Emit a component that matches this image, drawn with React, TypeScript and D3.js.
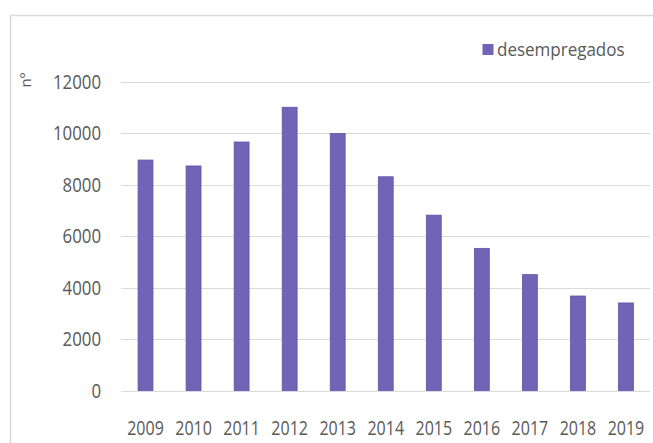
import React from "react";
import * as d3 from "d3";

const years = ["2009", "2010", "2011", "2012", "2013", "2014", "2015", "2016", "2017", "2018", "2019"];
const desempregados = [8950, 8720, 9650, 11000, 9980, 8300, 6810, 5520, 4500, 3670, 3400];
const yTicks = [0, 2000, 4000, 6000, 8000, 10000, 12000];
const seriesName = "desempregados";
const yAxisTitle = "nº";

const W = 653;
const H = 443;
const FONT = "'Open Sans', sans-serif";
const TXT = "#595959";

export default function App() {
  const x = d3.scaleBand<string>().domain(years).range([121.5, 650]).paddingInner(0.69).paddingOuter(0.345);
  const y = d3.scaleLinear().domain([0, 12000]).range([390.5, 81.5]);

  return (
    <svg width={W} height={H} style={{ position: "absolute", left: 0, top: 0, background: "#fff" }}>
      <rect x={0} y={0} width={W} height={H} fill="#fff" />
      <rect x={10.5} y={15.5} width={700} height={500} fill="none" stroke="#d9d9d9" strokeWidth={1.5} />
      {yTicks.map((t) => (
        <g key={t}>
          <line x1={121} x2={650} y1={Math.round(y(t)) + 0.5} y2={Math.round(y(t)) + 0.5} stroke="#d9d9d9" strokeWidth={1} />
          <text
            x={101}
            y={y(t)}
            textAnchor="end"
            fontFamily={FONT}
            fontSize={16.8}
            fill={TXT}
            transform={`translate(0 ${y(t)}) scale(1 1.2) translate(0 ${-y(t)})`}
            dy="0.36em"
          >
            {t}
          </text>
        </g>
      ))}
      {years.map((yr, i) => (
        <rect
          key={yr}
          x={x(yr)}
          y={y(desempregados[i])}
          width={x.bandwidth()}
          height={y(0) - y(desempregados[i])}
          fill="#7164b7"
          stroke="#5f54a6"
          strokeWidth={0.8}
        />
      ))}
      {years.map((yr) => {
        const cx = (x(yr) as number) + x.bandwidth() / 2;
        return (
          <text
            key={yr}
            x={cx}
            y={427.5}
            textAnchor="middle"
            fontFamily={FONT}
            fontSize={16}
            fill={TXT}
            dy="0.36em"
            transform={`translate(0 427.5) scale(1 1.25) translate(0 -427.5)`}
          >
            {yr}
          </text>
        );
      })}
      <text
        x={0}
        y={0}
        transform="translate(26 80) rotate(-90)"
        textAnchor="middle"
        dy="0.36em"
        fontFamily={FONT}
        fontSize={15}
        fill={TXT}
      >
        {yAxisTitle}
      </text>
      <rect x={482.5} y={44} width={11} height={11} fill="#7164b7" />
      <text
        x={497}
        y={49.5}
        dy="0.36em"
        fontFamily={FONT}
        fontSize={17}
        fill={TXT}
        transform="translate(0 49.5) scale(1 1.1) translate(0 -49.5)"
      >
        {seriesName}
      </text>
    </svg>
  );
}
